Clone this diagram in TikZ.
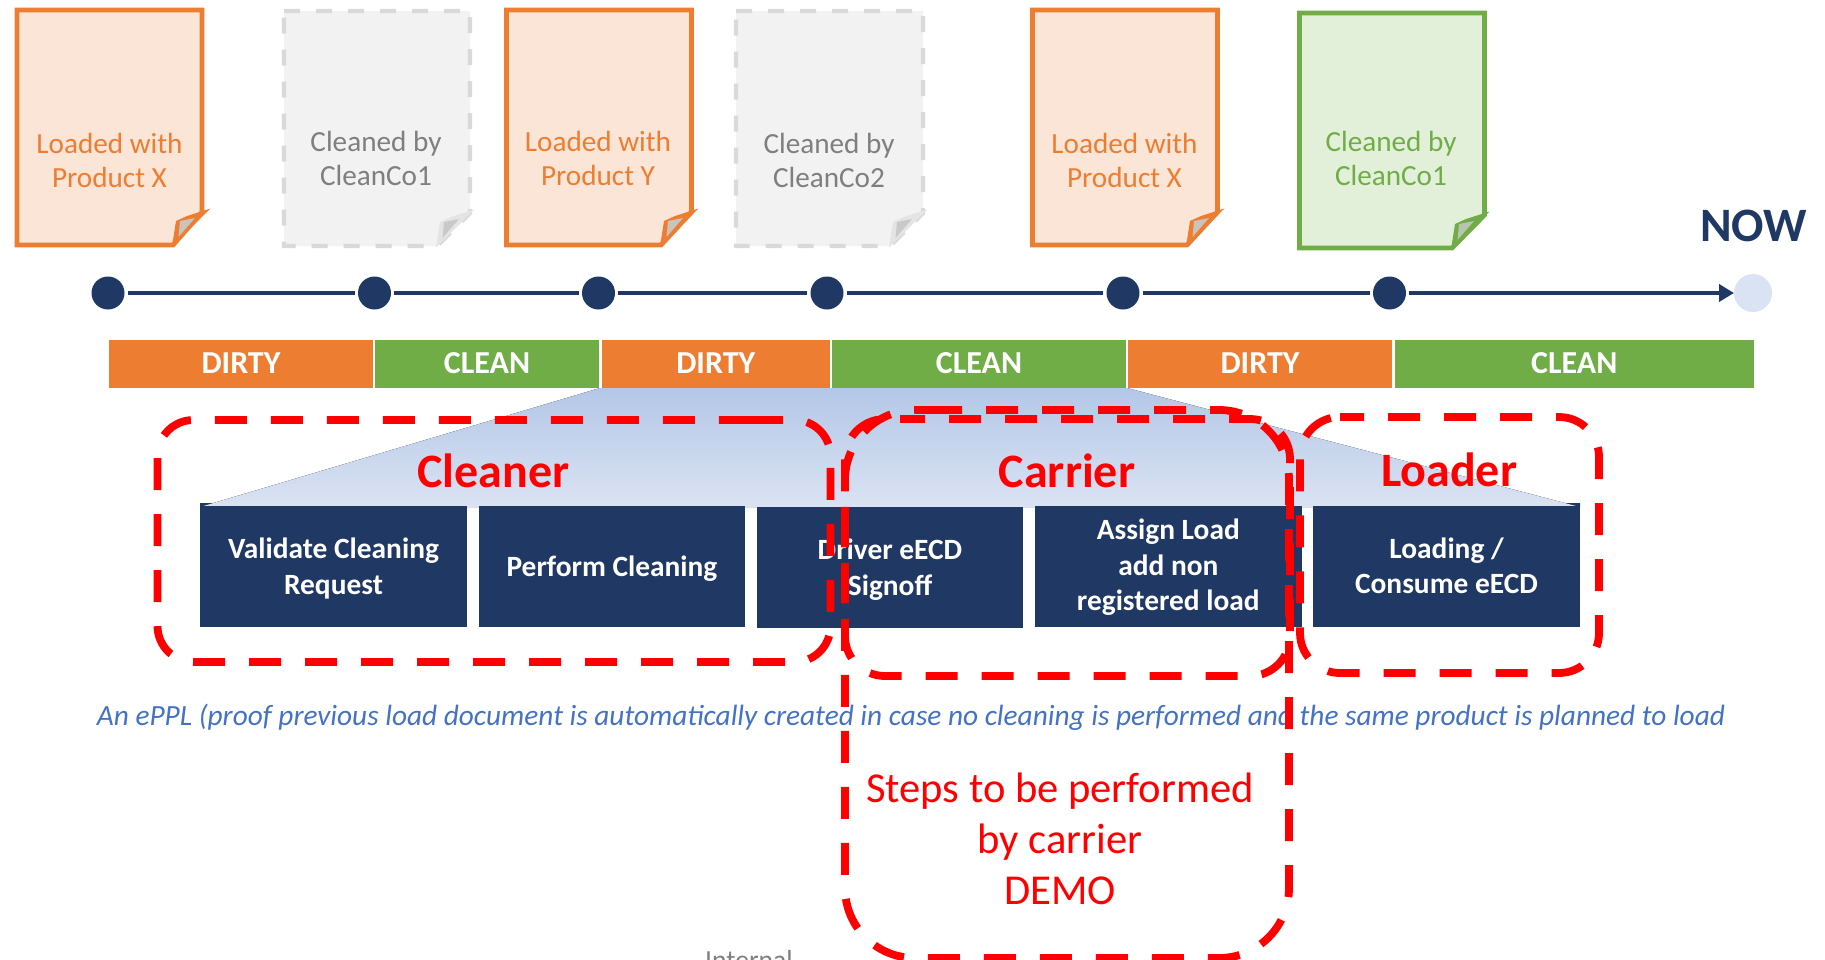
\documentclass[tikz,border=0pt]{standalone}
\usepackage{fontspec}
\setmainfont{Carlito}
\usetikzlibrary{arrows.meta}
\definecolor{navy}{HTML}{1F3864}
\definecolor{dorange}{HTML}{ED7D31}
\definecolor{dgreen}{HTML}{70AD47}
\definecolor{lorange}{HTML}{FBE5D6}
\definecolor{lgreen}{HTML}{E2F0D9}
\definecolor{lgrey}{HTML}{F2F2F2}
\definecolor{mgrey}{HTML}{D9D9D9}
\definecolor{tgrey}{HTML}{7F7F7F}
\definecolor{pale}{HTML}{DAE3F3}
\definecolor{midblue}{HTML}{B4C7E7}
\definecolor{notecol}{HTML}{4472C4}
\definecolor{redc}{HTML}{FF0000}
\definecolor{foldgrey}{HTML}{C9C3BC}
\definecolor{foldgreen}{HTML}{B9C4AE}
\definecolor{foldlight}{HTML}{E4E4E4}
\definecolor{foldmid}{HTML}{C9C9C9}
\tikzset{
  stopdot/.style={circle,fill=navy,minimum size=16.5pt,inner sep=0pt,outer sep=1.6pt},
  nowdot/.style={circle,fill=pale,minimum size=19pt,inner sep=0pt,outer sep=0pt},
  tline/.style={draw=navy,line width=2pt},
  barbox/.style={minimum height=24pt,inner sep=0pt,text=white,font=\fontsize{16}{18}\selectfont\bfseries},
  dirtybar/.style={barbox,fill=dorange},
  cleanbar/.style={barbox,fill=dgreen},
  stepbox/.style={fill=navy,minimum width=133.4pt,minimum height=60.5pt,inner sep=0pt},
  steptext/.style={text=white,align=center,font=\fontsize{14.7}{17.7}\selectfont\bfseries},
  pagetext/.style={align=center,font=\fontsize{14.6}{17.3}\selectfont},
  rolelabel/.style={text=redc,font=\fontsize{24}{28}\selectfont\bfseries},
  redframe/.style={draw=redc,line width=3.9pt,dash pattern=on 16pt off 12pt},
  orangepage/.style={draw=dorange,fill=lorange,line width=2.4pt,line join=miter,miter limit=2},
  greenpage/.style={draw=dgreen,fill=lgreen,line width=2.4pt,line join=miter,miter limit=2},
  greypage/.style={draw=mgrey,fill=lgrey,line width=2.2pt,dash pattern=on 8pt off 8pt},
}
% #1 x0, #2 y0, #3 x1, #4 y1, #5 foldx, #6 body style, #7 fold colour, #8 inner colour
\newcommand{\pageshape}[8]{%
  \filldraw[#6] (#1,#2)--(#3,#2)--(#3,#4-33)--(#5,#4)--(#1,#4)--cycle;
  \fill[#7] (#5-1,#4+1.5)--(#5+3,#4-24)--(#5+14,#4-29)--(#5+37.5,#4-36.5)--cycle;
  \fill[#8] (#5+7,#4-24)--(#5+22,#4-27)--(#5+5.5,#4-8)--cycle;
}
\begin{document}
\begin{tikzpicture}[x=0.5pt,y=-0.5pt]
\useasboundingbox (0,0) rectangle (1825,959);
\clip (0,0) rectangle (1825,959);
% pages
\pageshape{17}{10}{202}{245}{173}{orangepage}{dorange}{foldgrey}
\pageshape{284}{11}{470}{246}{437}{greypage}{foldlight}{foldmid}
\pageshape{506.5}{10}{691.5}{245}{661}{orangepage}{dorange}{foldgrey}
\pageshape{736}{11}{923}{246}{890}{greypage}{foldlight}{foldmid}
\pageshape{1032.5}{10}{1217.5}{245}{1187}{orangepage}{dorange}{foldgrey}
\pageshape{1299.5}{13}{1484.5}{248}{1452}{greenpage}{dgreen}{foldgreen}
\node[pagetext,text=dorange] (p1) at (109.5,160.5) {Loaded with\\Product X};
\node[pagetext,text=tgrey] (p2) at (376,158.5) {Cleaned by\\CleanCo1};
\node[pagetext,text=dorange] (p3) at (598,158.5) {Loaded with\\Product Y};
\node[pagetext,text=tgrey] (p4) at (829,160.5) {Cleaned by\\CleanCo2};
\node[pagetext,text=dorange] (p5) at (1124.5,160.5) {Loaded with\\Product X};
\node[pagetext,text=dgreen] (p6) at (1391,158.5) {Cleaned by\\CleanCo1};
\node[text=navy,font=\fontsize{24}{28}\selectfont\bfseries] (nowlabel) at (1753.5,226) {NOW};
% timeline
\node[stopdot] (c1) at (108,293) {};
\node[stopdot] (c2) at (374.5,293) {};
\node[stopdot] (c3) at (598.5,293) {};
\node[stopdot] (c4) at (827,293) {};
\node[stopdot] (c5) at (1123,293) {};
\node[stopdot] (c6) at (1389.5,293) {};
\node[nowdot] (now) at (1753,293) {};
\draw[tline] (c1)--(c2);
\draw[tline] (c2)--(c3);
\draw[tline] (c3)--(c4);
\draw[tline] (c4)--(c5);
\draw[tline] (c5)--(c6);
\draw[tline,-{Triangle[length=7.5pt,width=8.5pt]}] (c6)--(now);
% small navy corners left above the steps
\fill[navy] (200,503)--(217,503)--(200,507)--cycle;
\fill[navy] (1580,503)--(1562,503)--(1580,507)--cycle;
% trapezoid
\fill[top color=midblue,bottom color=pale] (600,388)--(1127,388)--(1580,507)--(200,507)--cycle;
% bars
\node[dirtybar,minimum width=131.6pt,text depth=0pt] (b1) at (241,363.5) {DIRTY};
\node[cleanbar,minimum width=111.75pt] (b2) at (487,363.5) {CLEAN};
\node[dirtybar,minimum width=114.25pt] (b3) at (715.75,363.5) {DIRTY};
\node[cleanbar,minimum width=147pt] (b4) at (979,363.5) {CLEAN};
\node[dirtybar,minimum width=132pt] (b5) at (1260,363.5) {DIRTY};
\node[cleanbar,minimum width=179.75pt] (b6) at (1574.25,363.5) {CLEAN};
% steps
\node[stepbox] (s1) at (333.5,566.5) {};
\node[stepbox] (s2) at (612,566.5) {};
\node[stepbox] (s3) at (890,567) {};
\node[stepbox] (s4) at (1168.3,566.5) {};
\node[stepbox] (s5) at (1446.5,566.5) {};
\node[steptext] (t1) at (333.5,568.5) {Validate Cleaning\\Request};
\node[steptext] (t2) at (612,569) {Perform Cleaning};
\node[steptext] (t3) at (890,569.5) {Driver eECD\\Signoff};
\node[steptext] (t4) at (1168.3,567.5) {Assign Load\\add non\\registered load};
\node[steptext] (t5) at (1446.5,565.5) {Loading /\\Consume eECD};
% labels
\node[rolelabel] (lc) at (493.5,471) {Cleaner};
\node[rolelabel] (lr) at (1067,471) {Carrier};
\node[rolelabel] (ll) at (1449,470) {Loader};
\node[text=notecol,font=\fontsize{14.66}{16}\selectfont\itshape] (note) at (911,717) {An ePPL (proof previous load document is automatically created in case no cleaning is performed and the same product is planned to load};
\node[text=redc,align=center,font=\fontsize{21.3}{25.4}\selectfont] (demo) at (1060,839) {Steps to be performed\\by carrier\\DEMO};
\node[text=tgrey,font=\fontsize{13.8}{16}\selectfont] (internal) at (749,960) {Internal};
% frames
\draw[redframe,rounded corners=18pt] (751,420)--(830.5,420)--(830.5,662)--(157.5,662)--(157.5,420)--(751,420);
\draw[redframe,rounded corners=20pt,dash phase=3.5pt] (900,419)--(1290,419)--(1290,676)--(845,676)--(845,419)--(900,419);
\draw[redframe,rounded corners=35pt] (930,410)--(1289,410)--(1289,958)--(845,958)--(845,410)--(930,410);
\draw[redframe,rounded corners=20pt,dash phase=4pt] (1340,417)--(1599,417)--(1599,673)--(1300,673)--(1300,417)--(1340,417);
\end{tikzpicture}
\end{document}
